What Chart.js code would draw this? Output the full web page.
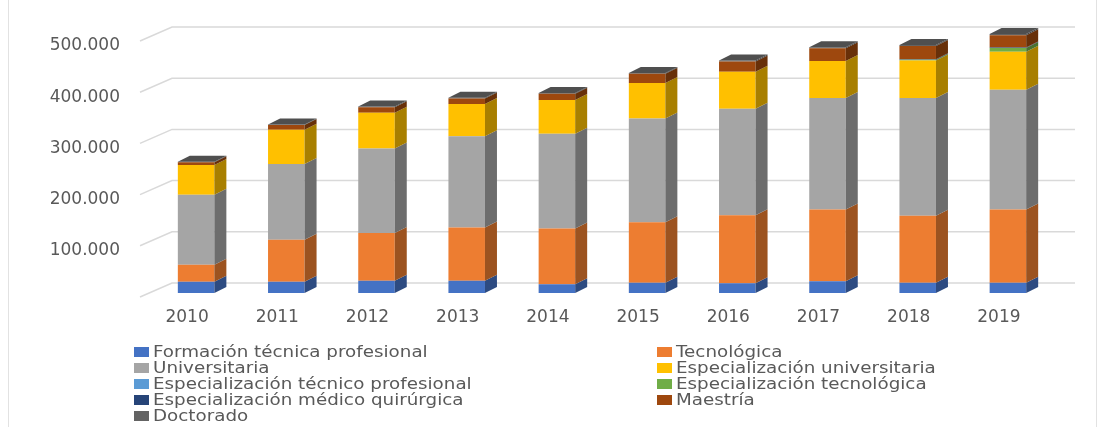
<!DOCTYPE html>
<html>
<head>
<meta charset="utf-8">
<script src="https://cdn.jsdelivr.net/npm/chart.js@4.4.1/dist/chart.umd.min.js"></script>
<style>
  html, body { margin: 0; padding: 0; background: #fff; }
  #wrap { position: relative; width: 1098px; height: 427px; overflow: hidden; }
  #wrap canvas { position: absolute; left: 0; top: 0; }
  #legend { position: absolute; left: 0; top: 0; width: 1098px; height: 427px; pointer-events: none;
            font-family: "DejaVu Sans", sans-serif; font-size: 15px; color: #595959; }
  .item { position: absolute; height: 16px; line-height: 16px; white-space: nowrap; }
  .sw { position: absolute; left: 0; top: 3px; width: 15px; height: 10px; }
  .tx { position: absolute; left: 19px; top: 0; transform: scaleX(1.22); transform-origin: left center; }
  .frame { position: absolute; top: 0; bottom: 0; width: 1px; background: #e2e2e2; }
</style>
</head>
<body>
<div id="wrap">
  <canvas id="chart" width="1098" height="427"></canvas>
  <div id="legend"></div>
  <div class="frame" style="left:8px"></div>
  <div class="frame" style="left:1096px"></div>
</div>
<script>
/* Matriculados por nivel de formacion 2010-2019 - columnas 3D apiladas */

const years = ['2010', '2011', '2012', '2013', '2014', '2015', '2016', '2017', '2018', '2019'];

const formacionTecnica = [22000, 22000, 24000, 24000, 17000, 20000, 19000, 23000, 20000, 20000];
const tecnologica = [33000, 82000, 93000, 104000, 109000, 118000, 133000, 140000, 131000, 143000];
const universitaria = [137000, 148000, 165000, 178000, 185000, 203000, 208000, 218000, 230000, 234000];
const espUniversitaria = [58000, 67000, 70000, 63000, 66000, 69000, 72000, 72000, 73000, 74000];
const espTecnicoProfesional = [0, 0, 0, 0, 0, 0, 0, 0, 300, 400];
const espTecnologica = [0, 0, 0, 0, 0, 0, 0, 0, 1500, 7000];
const espMedicoQuirurgica = [0, 0, 0, 0, 0, 0, 0, 0, 800, 1000];
const maestria = [5500, 9000, 11000, 11000, 12200, 18000, 20300, 25000, 26000, 24000];
const doctorado = [1000, 1000, 1200, 1300, 1400, 1500, 1700, 2000, 2000, 2500];

const seriesNames = [
  'Formación técnica profesional', 'Tecnológica', 'Universitaria',
  'Especialización universitaria', 'Especialización técnico profesional',
  'Especialización tecnológica', 'Especialización médico quirúrgica',
  'Maestría', 'Doctorado',
];
const seriesValues = [
  formacionTecnica, tecnologica, universitaria, espUniversitaria,
  espTecnicoProfesional, espTecnologica, espMedicoQuirurgica, maestria, doctorado,
];

const yTickValues = [0, 100000, 200000, 300000, 400000, 500000];
const yTickLabels = ['', '100.000', '200.000', '300.000', '400.000', '500.000'];

const seriesColors = ['#4472C4', '#ED7D31', '#A5A5A5', '#FFC000', '#5B9BD5', '#70AD47', '#264478', '#9E480E', '#636363'];

function shade(hex, f) {
  const n = parseInt(hex.slice(1), 16);
  const r = Math.round(((n >> 16) & 255) * f);
  const g = Math.round(((n >> 8) & 255) * f);
  const b = Math.round((n & 255) * f);
  return `rgb(${r}, ${g}, ${b})`;
}
const sideColors = seriesColors.map((c) => shade(c, 0.66));
const topColors = seriesColors.map((c) => shade(c, 0.8));

const DEPTH_X = 12;
const DEPTH_Y = 6;

// paredes / lineas de division al fondo (perspectiva)
const backWall = {
  id: 'backWall',
  beforeDatasetsDraw(chart) {
    const { ctx, chartArea } = chart;
    const y = chart.scales.y;
    const xFront = chartArea.left - 11;
    const xBack = chartArea.left + 21;
    const xEnd = chartArea.right + 22;
    ctx.save();
    ctx.strokeStyle = '#d9d9d9';
    ctx.lineWidth = 1.5;
    y.ticks.forEach((t) => {
      const py = y.getPixelForValue(t.value);
      ctx.beginPath();
      ctx.moveTo(xFront, py + 4);
      ctx.lineTo(xBack, py - 10);
      ctx.lineTo(xEnd, py - 10);
      ctx.stroke();
    });
    ctx.restore();
  },
};

// caras laterales y superiores de las columnas
const bars3d = {
  id: 'bars3d',
  afterDatasetsDraw(chart) {
    const { ctx } = chart;
    ctx.save();
    chart.data.datasets.forEach((ds, di) => {
      const meta = chart.getDatasetMeta(di);
      meta.data.forEach((bar) => {
        const p = bar.getProps(['x', 'y', 'base', 'width'], true);
        if (Math.abs(p.base - p.y) < 0.01) return;
        const x1 = p.x + p.width / 2;
        ctx.fillStyle = sideColors[di];
        ctx.beginPath();
        ctx.moveTo(x1, p.y);
        ctx.lineTo(x1 + DEPTH_X, p.y - DEPTH_Y);
        ctx.lineTo(x1 + DEPTH_X, p.base - DEPTH_Y);
        ctx.lineTo(x1, p.base);
        ctx.closePath();
        ctx.fill();
      });
    });
    years.forEach((_, i) => {
      let top = -1;
      seriesValues.forEach((vals, di) => { if (vals[i] > 0) top = di; });
      if (top < 0) return;
      const p = chart.getDatasetMeta(top).data[i].getProps(['x', 'y', 'width'], true);
      const x0 = p.x - p.width / 2;
      const x1 = p.x + p.width / 2;
      ctx.fillStyle = topColors[top];
      ctx.beginPath();
      ctx.moveTo(x0, p.y);
      ctx.lineTo(x1, p.y);
      ctx.lineTo(x1 + DEPTH_X, p.y - DEPTH_Y);
      ctx.lineTo(x0 + DEPTH_X, p.y - DEPTH_Y);
      ctx.closePath();
      ctx.fill();
    });
    ctx.restore();
  },
};

function buildLegend() {
  const box = document.getElementById('legend');
  seriesNames.forEach((name, i) => {
    const item = document.createElement('div');
    item.className = 'item';
    item.style.left = (i % 2 ? 657 : 134) + 'px';
    item.style.top = (344 + Math.floor(i / 2) * 16) + 'px';
    const sw = document.createElement('span');
    sw.className = 'sw';
    sw.style.background = seriesColors[i];
    const tx = document.createElement('span');
    tx.className = 'tx';
    tx.textContent = name;
    item.appendChild(sw);
    item.appendChild(tx);
    box.appendChild(item);
  });
}

function noPadding(scale) {
  scale.paddingTop = 0;
  scale.paddingBottom = 0;
  scale.paddingLeft = 0;
  scale.paddingRight = 0;
}

const tickFont = { family: '"DejaVu Sans", sans-serif', size: 17 };

const datasets = seriesNames.map((name, i) => ({
  label: name,
  data: seriesValues[i],
  backgroundColor: seriesColors[i],
  borderWidth: 0,
  categoryPercentage: 1,
  barPercentage: 0.405,
  clip: false,
}));

new Chart(document.getElementById('chart').getContext('2d'), {
  type: 'bar',
  data: { labels: years, datasets },
  options: {
    responsive: false,
    animation: false,
    layout: { padding: { top: 37, right: 45, bottom: 100, left: 0 } },
    plugins: {
      legend: { display: false },
      tooltip: { enabled: false },
    },
    scales: {
      x: {
        stacked: true,
        grid: { display: false, drawTicks: false },
        border: { display: false },
        ticks: { font: tickFont, color: '#595959', padding: 14, labelOffset: -9 },
        afterFit(scale) { scale.height = 34; noPadding(scale); },
      },
      y: {
        stacked: true,
        min: 0,
        max: 500000,
        grid: { display: false, drawTicks: false },
        border: { display: false },
        afterBuildTicks(scale) { scale.ticks = yTickValues.map((v) => ({ value: v })); },
        ticks: {
          font: tickFont,
          color: '#595959',
          padding: 31,
          labelOffset: 9,
          callback(value) { return yTickLabels[yTickValues.indexOf(value)] ?? ''; },
        },
        afterFit(scale) { scale.width = 151; noPadding(scale); },
      },
    },
  },
  plugins: [backWall, bars3d],
});

buildLegend();
</script>
</body>
</html>
